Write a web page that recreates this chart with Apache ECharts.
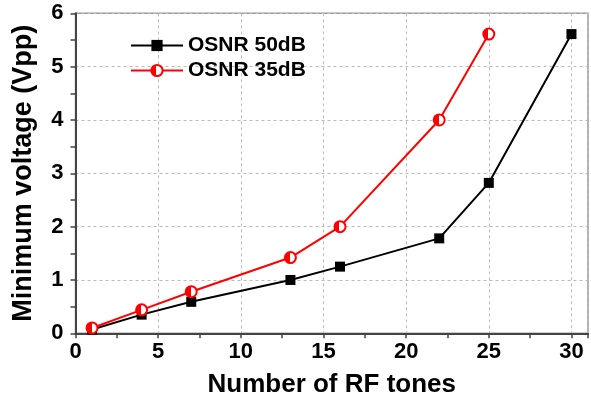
<!DOCTYPE html>
<html>
<head>
<meta charset="utf-8">
<script src="https://cdn.jsdelivr.net/npm/echarts@6/dist/echarts.min.js"></script>
<style>html,body{margin:0;padding:0;background:#fff}#c{width:591px;height:404px}</style>
</head>
<body>
<div id="c"></div>
<script>
const seriesNames = ['OSNR 50dB', 'OSNR 35dB'];
const tones50 = [1, 4, 7, 13, 16, 22, 25, 30];
const volt50 = [0.07, 0.35, 0.59, 1.0, 1.25, 1.78, 2.82, 5.61];
const tones35 = [1, 4, 7, 13, 16, 22, 25];
const volt35 = [0.1, 0.44, 0.78, 1.42, 2.0, 4.0, 5.61];
const xTitle = 'Number of RF tones';
const yTitle = 'Minimum voltage (Vpp)';

const font = 'Liberation Sans, Arial, sans-serif';
const halfFill = new echarts.graphic.LinearGradient(0, 0, 1, 0, [
  { offset: 0, color: '#f00' }, { offset: 0.46, color: '#f00' },
  { offset: 0.46, color: '#fff' }, { offset: 1, color: '#fff' }
]);

const chart = echarts.init(document.getElementById('c'));
chart.setOption({
  animation: false,
  backgroundColor: '#fff',
  grid: { left: 75.5, top: 13.3, bottom: 70.7, right: -2, show: true, borderColor: '#999', borderWidth: 1.5, containLabel: false },
  legend: {
    left: 125, top: 30, orient: 'vertical', itemWidth: 52, itemHeight: 14, itemGap: 4,
    textStyle: { fontFamily: font, fontWeight: 'bold', fontSize: 21, color: '#000' },
    data: seriesNames
  },
  xAxis: [{
    type: 'value', min: 0, max: 31, interval: 5, position: 'bottom',
    name: xTitle, nameLocation: 'middle', nameGap: 39,
    nameTextStyle: { fontFamily: font, fontWeight: 'bold', fontSize: 26, color: '#000' },
    axisLine: { lineStyle: { color: '#444', width: 2 } },
    axisTick: { show: true, length: 5, lineStyle: { color: '#444', width: 1.5 } },
    axisLabel: { fontFamily: font, fontWeight: 'bold', fontSize: 22, color: '#000', margin: 8,
      formatter: v => (v % 5 === 0 ? String(v) : '') },
    splitLine: { show: true, lineStyle: { color: '#bbb', type: [3, 3], width: 1 } }
  }, {
    type: 'value', min: 0, max: 31, interval: 2.5, position: 'bottom',
    axisLine: { show: false },
    axisTick: { show: true, length: 5, lineStyle: { color: '#444', width: 1.5 } },
    axisLabel: { show: false },
    splitLine: { show: false }
  }],
  yAxis: {
    type: 'value', min: 0, max: 6, interval: 1,
    name: yTitle, nameLocation: 'middle', nameGap: 38,
    nameTextStyle: { fontFamily: font, fontWeight: 'bold', fontSize: 27, color: '#000' },
    axisLine: { show: true, lineStyle: { color: '#444', width: 2 } },
    axisTick: { show: true, length: 5, lineStyle: { color: '#444', width: 1.5 } },
    minorTick: { show: true, splitNumber: 2, length: 5, lineStyle: { color: '#444', width: 1.5 } },
    axisLabel: { fontFamily: font, fontWeight: 'bold', fontSize: 22, color: '#000', margin: 12 },
    splitLine: { show: true, lineStyle: { color: '#bbb', type: [3, 3], width: 1 } }
  },
  series: [{
    name: seriesNames[0], type: 'line', xAxisIndex: 0,
    data: tones50.map((t, i) => [t, volt50[i]]),
    symbol: 'rect', symbolSize: 10,
    lineStyle: { color: '#000', width: 2 },
    itemStyle: { color: '#000' }
  }, {
    name: seriesNames[1], type: 'line', xAxisIndex: 0,
    data: tones35.map((t, i) => [t, volt35[i]]),
    symbol: 'circle', symbolSize: 11,
    lineStyle: { color: '#f00', width: 2 },
    itemStyle: { color: halfFill, borderColor: '#f00', borderWidth: 2 }
  }]
});
</script>
</body>
</html>
